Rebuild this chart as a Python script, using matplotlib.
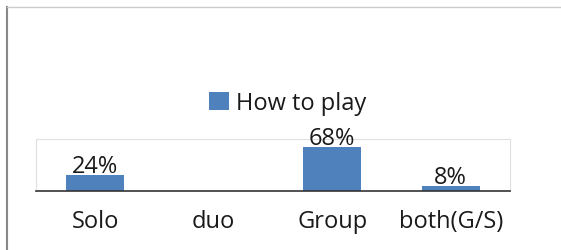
import matplotlib.pyplot as plt
from matplotlib.lines import Line2D

# data
categories = ['Solo', 'duo', 'Group', 'both(G/S)']
values = [24, 0, 68, 8]
labels = ['24%', '', '68%', '8%']

plt.rcParams['font.family'] = ['Open Sans', 'DejaVu Sans']

fig = plt.figure(figsize=(5.61, 2.51), dpi=100)
ax = fig.add_axes([0.064, 0.235, 0.845, 0.207])

x = range(len(categories))
bars = ax.bar(x, values, width=0.49, color='#4F81BD', label='How to play')
for b, lab in zip(bars, labels):
    if lab:
        ax.annotate(lab, (b.get_x() + b.get_width() / 2, b.get_height()),
                    xytext=(0, -2), textcoords='offset points',
                    ha='center', va='bottom', fontsize=17, color='#1a1a1a')

ax.set_xlim(-0.5, 3.5)
ax.set_ylim(0, 80)
ax.set_yticks([])
ax.set_xticks(list(x))
ax.set_xticklabels(categories, fontsize=17, color='#1a1a1a')
ax.tick_params(axis='x', length=0, pad=13)
for s in ['left', 'right', 'top']:
    ax.spines[s].set_color('#e0e0e0')
    ax.spines[s].set_linewidth(0.8)
ax.spines['bottom'].set_color('#333333')
ax.spines['bottom'].set_linewidth(1.2)

fig.legend(loc='center', bbox_to_anchor=(0.513, 0.585), frameon=False,
           fontsize=17, handlelength=0.85, handleheight=0.85,
           handletextpad=0.3, labelcolor='#1a1a1a')

# outer frame lines
fig.add_artist(Line2D([0.0125, 0.0125], [0, 0.968], color='#888888', lw=1.5))
fig.add_artist(Line2D([0.0125, 1.0], [0.968, 0.968], color='#cccccc', lw=1.0))

fig.savefig('out.png', dpi=100)
